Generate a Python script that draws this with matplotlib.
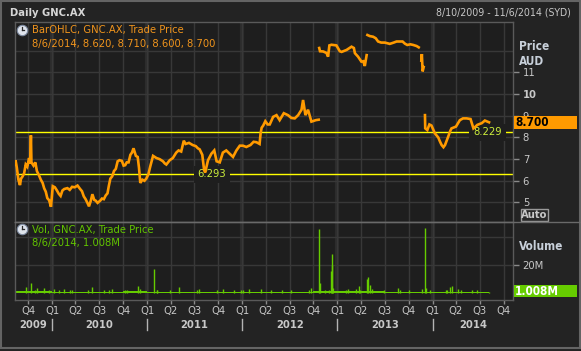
import matplotlib
matplotlib.use("Agg")
import matplotlib.pyplot as plt
import matplotlib.dates as mdates
from matplotlib.transforms import blended_transform_factory
from matplotlib.patches import Rectangle
import numpy as np
import pandas as pd

# ---------------- data ----------------
price_2009_2012 = [
    ("2009-08-10", 6.75), ("2009-08-14", 6.95), ("2009-08-19", 6.60), ("2009-08-25", 6.05),
    ("2009-08-31", 5.80), ("2009-09-04", 6.10), ("2009-09-10", 6.20), ("2009-09-16", 6.35),
    ("2009-09-22", 6.75), ("2009-09-28", 6.65), ("2009-10-05", 7.05), ("2009-10-09", 6.80),
    ("2009-10-12", 8.10), ("2009-10-14", 6.85), ("2009-10-22", 6.70), ("2009-10-29", 6.85),
    ("2009-11-04", 6.45), ("2009-11-12", 6.25), ("2009-11-19", 6.05), ("2009-11-26", 5.90),
    ("2009-12-02", 5.65), ("2009-12-08", 5.50), ("2009-12-14", 5.20), ("2009-12-21", 5.10),
    ("2009-12-28", 4.80), ("2010-01-04", 5.75), ("2010-01-12", 5.70), ("2010-01-20", 5.55),
    ("2010-01-27", 5.40), ("2010-02-03", 5.30), ("2010-02-10", 5.55), ("2010-02-17", 5.62),
    ("2010-03-01", 5.66), ("2010-03-10", 5.58), ("2010-03-19", 5.72), ("2010-03-29", 5.70),
    ("2010-04-09", 5.78), ("2010-04-19", 5.62), ("2010-04-26", 5.52), ("2010-05-03", 5.28),
    ("2010-05-10", 5.15), ("2010-05-17", 4.98), ("2010-05-23", 4.82), ("2010-05-30", 5.08),
    ("2010-06-05", 5.38), ("2010-06-12", 5.12), ("2010-06-18", 5.08), ("2010-06-25", 4.98),
    ("2010-07-05", 5.08), ("2010-07-12", 5.18), ("2010-07-19", 5.15), ("2010-07-26", 5.32),
    ("2010-08-02", 5.42), ("2010-08-07", 5.75), ("2010-08-13", 6.10), ("2010-08-20", 6.20),
    ("2010-08-27", 6.45), ("2010-09-03", 6.55), ("2010-09-10", 6.90), ("2010-09-17", 6.95),
    ("2010-09-26", 6.92), ("2010-10-03", 6.70), ("2010-10-09", 6.72), ("2010-10-15", 6.85),
    ("2010-10-22", 6.85), ("2010-10-29", 7.20), ("2010-11-04", 7.30), ("2010-11-10", 7.50),
    ("2010-11-19", 7.15), ("2010-11-26", 7.10), ("2010-12-01", 6.60), ("2010-12-06", 5.90),
    ("2010-12-14", 6.05), ("2010-12-22", 6.00), ("2010-12-29", 6.10), ("2011-01-06", 6.30),
    ("2011-01-13", 6.65), ("2011-01-24", 7.15), ("2011-02-06", 7.05), ("2011-02-18", 7.00),
    ("2011-03-03", 6.90), ("2011-03-10", 6.80), ("2011-03-16", 6.75), ("2011-03-29", 6.95),
    ("2011-04-10", 7.05), ("2011-04-23", 7.30), ("2011-05-02", 7.40), ("2011-05-12", 7.35),
    ("2011-05-22", 7.85), ("2011-05-29", 7.70), ("2011-06-11", 7.75), ("2011-06-25", 7.65),
    ("2011-07-07", 7.60), ("2011-07-15", 7.50), ("2011-07-22", 7.45), ("2011-08-01", 7.20),
    ("2011-08-08", 6.50), ("2011-08-12", 6.38), ("2011-08-23", 6.95), ("2011-09-05", 7.25),
    ("2011-09-16", 7.40), ("2011-09-25", 6.90), ("2011-10-07", 6.85), ("2011-10-19", 7.30),
    ("2011-11-01", 7.40), ("2011-11-14", 7.25), ("2011-11-27", 7.10), ("2011-12-10", 7.40),
    ("2011-12-23", 7.62), ("2012-01-04", 7.62), ("2012-01-17", 7.56), ("2012-02-02", 7.65),
    ("2012-02-14", 7.80), ("2012-02-25", 7.78), ("2012-03-08", 7.70), ("2012-03-12", 8.20),
    ("2012-03-16", 8.45), ("2012-03-22", 8.55), ("2012-03-30", 8.75), ("2012-04-08", 8.60),
    ("2012-04-16", 8.60), ("2012-04-29", 8.95), ("2012-05-12", 9.03), ("2012-05-24", 8.80),
    ("2012-06-09", 9.12), ("2012-06-25", 9.03), ("2012-07-08", 8.90), ("2012-07-21", 8.88),
    ("2012-08-03", 9.03), ("2012-08-16", 9.28), ("2012-08-22", 9.73), ("2012-08-31", 9.03),
    ("2012-09-10", 9.28), ("2012-09-23", 8.73), ("2012-10-10", 8.80), ("2012-10-21", 8.82),
]
price_late_2012 = [
    ("2012-10-23", 12.13), ("2012-10-26", 11.98), ("2012-11-07", 11.97), ("2012-11-20", 11.90),
    ("2012-11-26", 11.73), ("2012-12-01", 12.25), ("2012-12-09", 12.28), ("2012-12-28", 12.25),
    ("2013-01-10", 11.98), ("2013-01-17", 11.95), ("2013-02-05", 12.04), ("2013-02-24", 12.19),
    ("2013-03-05", 12.13), ("2013-03-09", 11.89), ("2013-03-21", 11.73), ("2013-04-03", 11.50),
    ("2013-04-10", 11.52), ("2013-04-16", 11.30), ("2013-04-23", 11.80),
]
price_2013 = [
    ("2013-04-26", 12.73), ("2013-05-05", 12.68), ("2013-05-18", 12.65), ("2013-05-28", 12.58),
    ("2013-06-06", 12.43), ("2013-06-18", 12.38), ("2013-07-02", 12.38), ("2013-07-21", 12.32),
    ("2013-08-05", 12.38), ("2013-08-16", 12.43), ("2013-09-08", 12.43), ("2013-09-17", 12.33),
    ("2013-09-26", 12.27), ("2013-10-08", 12.30), ("2013-10-19", 12.27), ("2013-11-01", 12.22),
    ("2013-11-09", 12.16),
]
price_nov_2013 = [
    ("2013-11-19", 11.55), ("2013-11-21", 11.85), ("2013-11-24", 11.05), ("2013-11-28", 11.25),
]
price_2014 = [
    ("2013-12-03", 9.03), ("2013-12-04", 8.42), ("2013-12-12", 8.34), ("2013-12-20", 8.60),
    ("2013-12-28", 8.55), ("2014-01-10", 8.19), ("2014-01-23", 8.00), ("2014-01-30", 7.80),
    ("2014-02-05", 7.65), ("2014-02-12", 7.55), ("2014-02-18", 7.65), ("2014-03-02", 8.03),
    ("2014-03-10", 8.30), ("2014-03-15", 8.42), ("2014-04-01", 8.50), ("2014-04-16", 8.80),
    ("2014-04-28", 8.88), ("2014-05-12", 8.88), ("2014-05-27", 8.85), ("2014-06-07", 8.42),
    ("2014-06-15", 8.50), ("2014-06-22", 8.58), ("2014-07-09", 8.66), ("2014-07-21", 8.78),
    ("2014-08-06", 8.70),
]
price_segments = [price_2009_2012, price_late_2012, price_2013, price_nov_2013, price_2014]

# typical daily volume per quarter (millions), Q3 2009 .. Q3 2014
vol_quarter_starts = ["2009-07-01", "2009-10-01", "2010-01-01", "2010-04-01", "2010-07-01",
                      "2010-10-01", "2011-01-01", "2011-04-01", "2011-07-01", "2011-10-01",
                      "2012-01-01", "2012-04-01", "2012-07-01", "2012-10-01", "2013-01-01",
                      "2013-04-01", "2013-07-01", "2013-10-01", "2014-01-01", "2014-04-01",
                      "2014-07-01"]
vol_quarter_typical = [1.4, 1.5, 1.3, 1.2, 1.3, 1.4, 1.3, 1.3, 1.3, 1.2, 1.1,
                       1.2, 1.2, 1.6, 1.5, 1.5, 1.2, 1.2, 1.3, 1.3, 1.1]
# notable single-day volumes (millions)
vol_spikes = [
    ("2009-09-24", 4.7), ("2009-10-12", 7.3), ("2009-10-29", 2.6), ("2009-11-06", 3.9),
    ("2009-11-30", 3.9), ("2009-12-19", 2.4), ("2010-01-07", 3.5), ("2010-01-26", 2.6),
    ("2010-02-17", 3.5), ("2010-03-12", 2.4), ("2010-03-20", 2.8), ("2010-05-20", 2.5),
    ("2010-06-05", 4.7), ("2010-07-20", 2.6), ("2010-08-06", 2.2), ("2010-08-20", 3.0),
    ("2010-10-10", 2.8), ("2010-10-16", 2.3), ("2010-11-26", 5.4), ("2010-12-06", 3.5),
    ("2011-01-26", 17.6), ("2011-02-08", 2.4), ("2011-02-10", 2.5), ("2011-03-31", 2.6),
    ("2011-05-05", 4.7), ("2011-07-11", 2.5), ("2011-07-20", 3.5), ("2011-09-26", 2.4),
    ("2011-10-20", 3.5), ("2011-11-29", 2.6), ("2011-12-27", 2.8), ("2012-01-06", 2.4),
    ("2012-01-28", 3.0), ("2012-03-15", 3.0), ("2012-04-19", 2.3), ("2012-06-01", 2.5),
    ("2012-07-05", 2.4), ("2012-09-13", 2.6), ("2012-09-20", 3.9), ("2012-10-23", 45.7),
    ("2012-10-25", 7.8), ("2012-11-16", 2.8), ("2012-11-30", 2.6), ("2012-12-07", 16.2),
    ("2012-12-10", 20.0), ("2012-12-11", 28.4), ("2012-12-14", 3.9), ("2013-02-01", 2.6),
    ("2013-02-10", 3.0), ("2013-03-15", 3.5), ("2013-03-25", 5.6), ("2013-03-30", 2.8),
    ("2013-04-26", 10.4), ("2013-04-30", 11.4), ("2013-05-07", 6.0), ("2013-05-15", 3.5),
    ("2013-06-28", 2.4), ("2013-08-20", 3.9), ("2013-08-31", 2.3), ("2013-10-01", 2.5),
    ("2013-11-20", 3.0), ("2013-12-02", 46.4), ("2013-12-06", 3.9), ("2013-12-23", 2.4),
    ("2014-02-20", 2.8), ("2014-02-27", 2.5), ("2014-03-08", 4.7), ("2014-03-18", 5.4),
    ("2014-04-08", 3.5), ("2014-04-19", 2.5), ("2014-06-01", 2.5), ("2014-06-22", 2.2),
    ("2014-08-06", 1.008),
]
support_levels = [8.229, 6.293]
price_ticks = [5, 6, 7, 8, 9, 10, 11]
price_grid = [5, 6, 7, 8, 9, 10, 11, 12]
vol_ticks = [20]
vol_grid = [20, 40]
quarter_names = {1: "Q1", 2: "Q2", 3: "Q3", 4: "Q4"}
range_start, range_end = "2009-08-10", "2014-11-06"
last_date = "2014-08-06"

# ---------------- style ----------------
BG = "#232323"
PLOT_BG = "#1e1e1e"
GRID = "#383838"
SPINE = "#5a5a5a"
TXT = "#c8c8c8"
ORANGE = "#ff9a00"
ORANGE_TXT = "#f0941c"
GREEN = "#66cc00"
GREEN_TXT = "#62c400"
YELLOW = "#ffff00"
LVL_TXT = "#ccee3c"

plt.rcParams["font.family"] = ["DejaVu Sans"]
plt.rcParams["font.stretch"] = "condensed"
FS = 8

W, H = 581, 351
fig = plt.figure(figsize=(W / 100, H / 100), dpi=100, facecolor=BG)

def fx(p):
    return p / W

def fy(p):
    return 1 - p / H

L, R = 14.5, 513
ax = fig.add_axes([fx(L), fy(221.5), fx(R) - fx(L), fy(22) - fy(221.5)])
axv = fig.add_axes([fx(L), fy(300), fx(R) - fx(L), fy(221.5) - fy(300)], sharex=ax)

t0, t1 = pd.Timestamp(range_start), pd.Timestamp(range_end)
for a in (ax, axv):
    a.set_facecolor(PLOT_BG)
    for s in a.spines.values():
        s.set_color(SPINE)
        s.set_linewidth(1)
    a.set_xlim(t0, t1)

quarters = pd.date_range("2009-10-01", "2014-10-01", freq="QS")
years = [pd.Timestamp(f"{y}-01-01") for y in range(2010, 2015)]
for a in (ax, axv):
    for q in quarters:
        a.axvline(q, color=GRID, lw=1, zorder=0.5)
    for y in years:
        a.axvline(y, color="#2c2c2c", lw=3, zorder=0.4)

# price panel
ax.set_ylim(4.12, 13.33)
for g in price_grid:
    ax.axhline(g, color=GRID, lw=1, zorder=0.5)
for lvl in support_levels:
    ax.axhline(lvl, color=YELLOW, lw=1, zorder=2)

xs, ys = [], []
for seg in price_segments:
    for d, v in seg:
        xs.append(pd.Timestamp(d))
        ys.append(v)
    xs.append(pd.Timestamp(seg[-1][0]) + pd.Timedelta(hours=12))
    ys.append(np.nan)
ax.plot(xs, ys, color=ORANGE, lw=1.9, zorder=3, solid_joinstyle="miter")

bt = blended_transform_factory(ax.transAxes, ax.transData)
for lvl, xf in zip(support_levels, [0.949, 0.396]):
    ax.text(xf, lvl, f"{lvl:.3f}", transform=bt, ha="center", va="center",
            color=LVL_TXT, fontsize=FS, zorder=2.5,
            bbox=dict(boxstyle="square,pad=0.35", fc=PLOT_BG, ec="none"))

ax.yaxis.tick_right()
ax.set_yticks(price_ticks)
ax.set_yticklabels([str(t) for t in price_ticks])
for lbl, t in zip(ax.get_yticklabels(), price_ticks):
    if t == 10:
        lbl.set_fontweight("bold")
ax.tick_params(axis="y", direction="out", length=4, width=1, color="#8a8a8a",
               labelsize=FS, labelcolor=TXT, pad=3)
ax.tick_params(axis="x", length=0, labelbottom=False)

# volume panel
axv.set_ylim(-4.7, 51.4)
for g in vol_grid:
    axv.axhline(g, color=GRID, lw=1, zorder=0.5)
qs_dates = [pd.Timestamp(d) for d in vol_quarter_starts]
last_ts = pd.Timestamp(last_date) + pd.Timedelta(days=1)
lefts, widths = [], []
for q in qs_dates:
    a0 = max(q, t0)
    a1 = min(q + pd.offsets.QuarterBegin(startingMonth=1), last_ts)
    lefts.append(mdates.date2num(a0))
    widths.append((a1 - a0).days)
axv.bar(lefts, vol_quarter_typical, width=widths, align="edge", color=GREEN, lw=0, zorder=2)
axv.vlines([pd.Timestamp(d) for d, _ in vol_spikes], 0, [v for _, v in vol_spikes],
           color=GREEN, lw=1, zorder=2)
axv.yaxis.tick_right()
axv.set_yticks(vol_ticks)
axv.set_yticklabels([f"{t}M" for t in vol_ticks])
axv.tick_params(axis="y", direction="out", length=4, width=1, color="#8a8a8a",
                labelsize=FS, labelcolor=TXT, pad=3)
axv.set_xticks(quarters)
axv.set_xticklabels([""] * len(quarters))
axv.tick_params(axis="x", direction="out", length=3, width=1, color="#8a8a8a")

# x labels
xt = blended_transform_factory(axv.transData, fig.transFigure)
for q in quarters:
    fig.text(mdates.date2num(q), fy(311), quarter_names[q.quarter], transform=xt,
             ha="center", va="center", color=TXT, fontsize=FS)
for yr in range(2009, 2015):
    a0 = max(pd.Timestamp(f"{yr}-01-01"), t0)
    a1 = min(pd.Timestamp(f"{yr + 1}-01-01"), t1)
    mid = mdates.date2num(a0) + (mdates.date2num(a1) - mdates.date2num(a0)) / 2
    fig.text(mid, fy(324.5), str(yr), transform=xt, ha="center", va="center",
             color=TXT, fontsize=FS, fontweight="bold")
for y in years:
    fig.add_artist(plt.Line2D([mdates.date2num(y)] * 2, [fy(319), fy(330)],
                              transform=xt, color="#b4b4b4", lw=1))

# overlay in pixel coordinates
ov = fig.add_axes([0, 0, 1, 1], zorder=10)
ov.set_xlim(0, W)
ov.set_ylim(H, 0)
ov.axis("off")
ov.patch.set_alpha(0)

ov.plot([L, W], [221.5, 221.5], color="#6a6a6a", lw=1)
ov.add_patch(Rectangle((0.75, 0.75), W - 1.5, H - 3.5, fill=False, ec="#646464", lw=1.5))

ov.text(9.5, 12.5, "Daily GNC.AX", color="#d6d6d6", fontsize=FS, fontweight="bold",
        va="center", ha="left")
ov.text(571, 12.5, "8/10/2009 - 11/6/2014 (SYD)", color=TXT, fontsize=FS - 0.4,
        va="center", ha="right")

def clock(x, y):
    ov.plot([x], [y], "o", ms=7.5, mfc="#dfe4ec", mec="#7d8aa0", mew=0.8)
    ov.plot([x, x], [y, y - 3], color="#2a2a2a", lw=0.9)
    ov.plot([x, x + 2.5], [y, y], color="#2a2a2a", lw=0.9)

clock(21.5, 29.5)
ov.text(31.5, 30.5, "BarOHLC, GNC.AX, Trade Price", color=ORANGE_TXT, fontsize=FS, va="center")
ov.text(31.5, 44.5, "8/6/2014, 8.620, 8.710, 8.600, 8.700", color=ORANGE_TXT, fontsize=FS,
        va="center")
clock(21.5, 228.5)
ov.text(31.5, 229.5, "Vol, GNC.AX, Trade Price", color=GREEN_TXT, fontsize=FS, va="center")
ov.text(31.5, 243, "8/6/2014, 1.008M", color=GREEN_TXT, fontsize=FS, va="center")

ov.text(519, 46, "Price", color="#c8d0da", fontsize=FS + 0.5, fontweight="bold", va="center")
ov.text(519, 61.5, "AUD", color="#c8d0da", fontsize=FS + 0.5, fontweight="bold", va="center")
ov.text(519, 247, "Volume", color="#c8d0da", fontsize=FS + 0.5, fontweight="bold", va="center")

ov.add_patch(Rectangle((513.5, 116), 63.5, 12.7, fc=ORANGE, ec="none"))
ov.text(515.5, 122.6, "8.700", color="black", fontsize=FS + 0.5, fontweight="bold", va="center")
ov.add_patch(Rectangle((513.5, 285.3), 63.5, 11.7, fc=GREEN, ec="none"))
ov.text(515, 291.3, "1.008M", color="white", fontsize=FS + 0.5, fontweight="bold", va="center")

ov.add_patch(Rectangle((520.5, 208.5), 27.5, 12.5, fc="#282828", ec="#9a9a9a", lw=1))
ov.text(534.2, 215, "Auto", color=TXT, fontsize=FS, fontweight="bold", va="center", ha="center")

fig.savefig("out.png", dpi=100, facecolor=BG)
